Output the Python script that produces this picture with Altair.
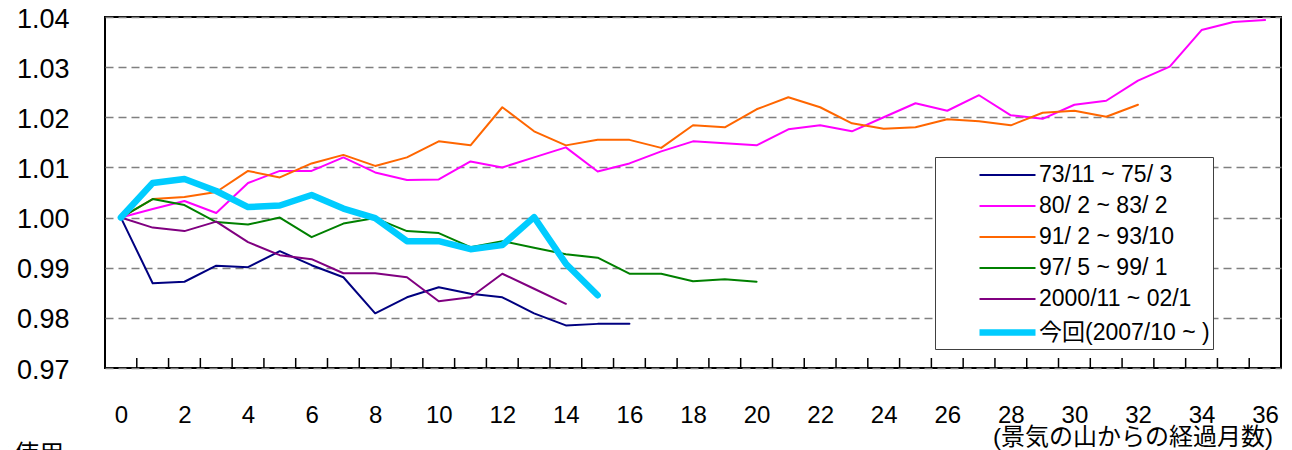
import altair as alt
import pandas as pd

# ---- data ----
series_names = ["73/11 ~ 75/ 3", "80/ 2 ~ 83/ 2", "91/ 2 ~ 93/10",
                "97/ 5 ~ 99/ 1", "2000/11 ~ 02/1", "今回(2007/10 ~ )"]

s_7311 = [1.000, 0.9869, 0.9872, 0.9904, 0.9901, 0.9933, 0.9905, 0.9881, 0.9809,
          0.9841, 0.9861, 0.9848, 0.9841, 0.9809, 0.9785, 0.9788, 0.9788]
s_8002 = [1.000, 1.0017, 1.0033, 1.0009, 1.0069, 1.0093, 1.0093, 1.0120, 1.0090,
          1.0075, 1.0076, 1.0112, 1.0100, 1.0120, 1.0140, 1.0092, 1.0108, 1.0132,
          1.0152, 1.0148, 1.0144, 1.0176, 1.0184, 1.0172, 1.0200, 1.0228, 1.0213,
          1.0244, 1.0204, 1.0197, 1.0225, 1.0233, 1.0273, 1.0301, 1.0374, 1.0390,
          1.0394]
s_9102 = [1.000, 1.0037, 1.0041, 1.0051, 1.0093, 1.0080, 1.0108, 1.0125, 1.0103,
          1.0120, 1.0152, 1.0144, 1.0220, 1.0172, 1.0144, 1.0155, 1.0155, 1.0139,
          1.0184, 1.0180, 1.0216, 1.0240, 1.0220, 1.0188, 1.0177, 1.0180, 1.0196,
          1.0192, 1.0184, 1.0209, 1.0213, 1.0201, 1.0225]
s_9705 = [1.000, 1.0037, 1.0025, 0.9991, 0.9986, 1.0000, 0.9961, 0.9988, 0.9999,
          0.9973, 0.9969, 0.9941, 0.9953, 0.9940, 0.9927, 0.9920, 0.9888, 0.9888,
          0.9873, 0.9877, 0.9872]
s_0011 = [1.000, 0.9980, 0.9973, 0.9992, 0.9951, 0.9925, 0.9917, 0.9889, 0.9889,
          0.9881, 0.9833, 0.9841, 0.9888, 0.9858, 0.9828]
s_now = [1.000, 1.0069, 1.0077, 1.0053, 1.0021, 1.0024, 1.0045, 1.0018, 0.9999,
         0.9953, 0.9953, 0.9937, 0.9945, 1.0001, 0.9908, 0.9845]

months = list(range(37))
x_label_values = list(range(0, 37, 2))
x_tick_bounds = [m + 0.5 for m in months[:-1]]
y_ticks = [0.97, 0.98, 0.99, 1.00, 1.01, 1.02, 1.03, 1.04]

axis_note = "(景気の山からの経過月数)"
cut_note = "を使用"

colors = ["#000080", "#FF00FF", "#FF6600", "#008000", "#800080", "#00CCFF"]
widths = [2, 2, 2, 2, 2, 6.5]

all_series = [s_7311, s_8002, s_9102, s_9705, s_0011, s_now]
rows = []
for name, vals in zip(series_names, all_series):
    for m, v in enumerate(vals):
        rows.append({"series": name, "month": months[m], "value": v})
df = pd.DataFrame(rows)

font = "Liberation Sans, Noto Sans CJK JP"
PLOT_W, PLOT_H = 1176, 351
TICK_LEN = 10

xscale = alt.Scale(domain=[-0.5, 36.5], nice=False, zero=False)

leg = alt.Legend(
    orient="none", legendX=830, legendY=140, title=None,
    padding=3, rowPadding=4,
    symbolType="M-2,0H2", symbolSize=784, symbolOffset=52,
    labelOffset=14, labelFontSize=23, labelFont=font, labelColor="black",
    labelExpr="datum.label + '\u00a0\u00a0\u00a0\u00a0\u00a0\u00a0\u00a0'",
    labelLimit=500, strokeColor="#404040", fillColor="white",
)

lines = alt.Chart(df).mark_line(strokeJoin="round", strokeCap="round").encode(
    x=alt.X("month:Q", scale=xscale,
            axis=alt.Axis(values=x_label_values, format="d", grid=False, ticks=False,
                          domain=False, labelPadding=35, labelFontSize=24, labelFont=font,
                          labelColor="black", title=None, labelFlush=False,
                          labelOverlap=False)),
    y=alt.Y("value:Q", scale=alt.Scale(domain=[0.97, 1.04], nice=False, zero=False),
            axis=alt.Axis(values=y_ticks, format=".2f", grid=True, gridDash=[8, 5],
                          gridColor="#808080", gridWidth=1.5, ticks=False, domain=False,
                          labelPadding=36, labelFontSize=27, labelFont=font,
                          labelColor="black", title=None, labelFlush=False,
                          labelOverlap=False, labelOffset=2)),
    color=alt.Color("series:N", scale=alt.Scale(domain=series_names, range=colors), legend=leg),
    strokeWidth=alt.StrokeWidth("series:N",
                                scale=alt.Scale(type="ordinal", domain=series_names, range=widths),
                                legend=leg),
)

# inward tick marks on the bottom frame, at the month category boundaries
tick_layer = alt.Chart(pd.DataFrame({"b": x_tick_bounds})).mark_rule(
    color="black", strokeWidth=1.5
).encode(
    x=alt.X("b:Q", scale=xscale),
    y=alt.value(PLOT_H - TICK_LEN),
    y2=alt.value(PLOT_H),
)

note1 = alt.Chart(pd.DataFrame({"t": [axis_note]})).mark_text(
    align="right", baseline="middle", fontSize=24, font=font, color="black"
).encode(text="t:N", x=alt.value(1168), y=alt.value(421))

note2 = alt.Chart(pd.DataFrame({"t": [cut_note]})).mark_text(
    align="right", baseline="top", fontSize=25, font=font, color="black"
).encode(text="t:N", x=alt.value(-41), y=alt.value(426))

chart = alt.layer(tick_layer, lines, note1, note2).properties(
    width=PLOT_W, height=PLOT_H,
    padding={"left": 97, "top": 9, "right": 3, "bottom": 82},
    autosize=alt.AutoSizeParams(type="none"),
).configure_view(stroke="black", strokeWidth=2)

chart.save("out.html", embed_options={"renderer": "svg", "actions": False})
